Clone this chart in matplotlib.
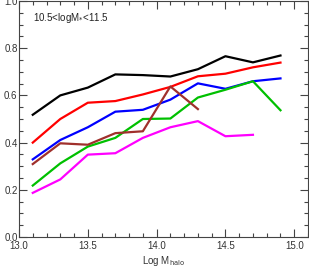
import matplotlib
matplotlib.use("Agg")
import matplotlib.pyplot as plt
from matplotlib.ticker import MultipleLocator

plt.rcParams['font.family'] = ['Liberation Sans', 'DejaVu Sans']

# halo mass bins
logmh = [13.1, 13.3, 13.5, 13.7, 13.9, 14.1, 14.3, 14.5, 14.7, 14.9]

# fractions per sample
black = [0.518, 0.600, 0.633, 0.689, 0.686, 0.680, 0.711, 0.766, 0.740, 0.769]
red = [0.400, 0.500, 0.569, 0.576, 0.604, 0.636, 0.681, 0.692, 0.719, 0.739]
blue = [0.329, 0.411, 0.465, 0.531, 0.539, 0.582, 0.651, 0.628, 0.660, 0.672]
green = [0.218, 0.312, 0.383, 0.420, 0.500, 0.502, 0.591, 0.624, 0.660, 0.537]
brown = [0.309, 0.397, 0.391, 0.440, 0.448, 0.638, 0.542]
magenta = [0.187, 0.244, 0.349, 0.355, 0.420, 0.465, 0.491, 0.427, 0.433]

fig = plt.figure(figsize=(3.09, 2.68), dpi=100)
ax = fig.add_axes([19/309, 31/268, 289/309, 236/268])

lw = 1.6
ax.plot(logmh, black, color='black', lw=lw)
ax.plot(logmh, red, color='#ff0000', lw=lw)
ax.plot(logmh, blue, color='#0000ff', lw=lw)
ax.plot(logmh, green, color='#00c000', lw=lw)
ax.plot(logmh[:len(brown)], brown, color='#a0302c', lw=lw)
ax.plot(logmh[:len(magenta)], magenta, color='#ff00ff', lw=lw)

ax.set_xlim(13.0, 15.1)
ax.set_ylim(0.0, 1.0)
ax.xaxis.set_major_locator(MultipleLocator(0.5))
ax.xaxis.set_minor_locator(MultipleLocator(0.1))
ax.yaxis.set_major_locator(MultipleLocator(0.2))
ax.yaxis.set_minor_locator(MultipleLocator(0.05))
ax.set_xticks([13.0, 13.5, 14.0, 14.5, 15.0])
ax.set_xticklabels(['13.0', '13.5', '14.0', '14.5', '15.0'])
ax.set_yticks([0.0, 0.2, 0.4, 0.6, 0.8, 1.0])
ax.set_yticklabels(['0.0', '0.2', '0.4', '0.6', '0.8', '1.0'])

ax.tick_params(which='both', direction='in', top=True, right=True,
               colors='#444444', labelcolor='#333333', labelsize=7, width=0.8)
ax.tick_params(which='major', length=6, pad=3)
ax.tick_params(which='minor', length=3)
ax.tick_params(axis='y', pad=1)
for s in ax.spines.values():
    s.set_color('#444444')
    s.set_linewidth(0.8)

ax.set_xlabel(r'Log M$_{\rm halo}$', fontsize=7, color='#333333', labelpad=2)
ax.text(0.05, 0.915, r'10.5<logM$_{*}$<11.5', transform=ax.transAxes,
        fontsize=7, color='#222222')

fig.savefig('out.png', dpi=100)
